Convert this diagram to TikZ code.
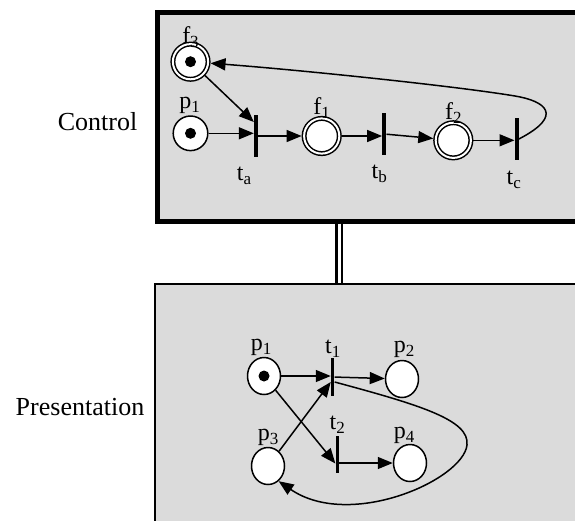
\documentclass[tikz,border=0pt]{standalone}
\usepackage{fontspec}
\setmainfont{Liberation Serif}
\usetikzlibrary{positioning,arrows.meta,shapes.geometric}
\definecolor{panel}{gray}{0.86}
\newcommand{\lblfont}{\fontsize{24}{24}\selectfont}
\newcommand{\sidefont}{\fontsize{26}{26}\selectfont}
\newcommand{\ix}[1]{\raisebox{-4pt}{\fontsize{17}{17}\selectfont #1}}
\tikzset{
  panelbox/.style={rectangle, draw, fill=panel, inner sep=0pt},
  place/.style={circle, draw, fill=white, line width=1.5pt, minimum size=34.6pt, inner sep=0pt},
  fplace/.style={circle, draw, double=white, double distance=2pt, fill=white,
                 line width=1.5pt, minimum size=35.2pt, inner sep=0pt, outer sep=2.5pt},
  eplace/.style={ellipse, draw, fill=white, line width=1.5pt, minimum width=33pt,
                 minimum height=37pt, inner sep=0pt},
  token/.style={path picture={\fill[black] (path picture bounding box.center) circle (5.5pt);}},
  trans/.style={rectangle, fill, minimum width=4pt, minimum height=42pt, inner sep=0pt},
  arc/.style={-{Triangle[length=15pt,width=12pt]}, line width=1.5pt},
  lbl/.style={inner sep=0pt, font=\lblfont},
  side/.style={inner sep=0pt, font=\sidefont, anchor=base}
}
\begin{document}
\begin{tikzpicture}[x=1pt, y=1pt, node distance=2pt]
  \useasboundingbox (0,0) rectangle (575,-520);
  % the two panels
  \node[panelbox, line width=5pt, minimum width=422.5pt, minimum height=208.5pt]
    (ctrl) at (368.75,-116.75) {};
  \node[panelbox, line width=2.5pt, minimum width=435pt, minimum height=256pt]
    (pres) at (372.5,-412) {};
  \coordinate (link) at (339.3,0);
  \draw[line width=2.3pt, double=white, double distance=3.4pt]
    (ctrl.south -| link) -- (pres.north -| link);
  \node[side] (ctrllbl) at (97.5,-130) {Control};
  \node[side] (preslbl) at (80,-415) {Presentation};

  % control net
  \node[fplace, token] (f3) at (190.5,-61.7) {};
  \node[place, token]  (cp1) at (190.5,-133.3) {};
  \node[trans] (ta) at (256,-136) {};
  \node[fplace] (f1) at (321.7,-136) {};
  \node[trans] (tb) at (384.3,-134) {};
  \node[fplace] (f2) at (453.3,-140.3) {};
  \node[trans] (tc) at (516.7,-139) {};

  \node[lbl, above=-6pt of f3] (f3lbl) {f\ix{3}};
  \node[lbl, above=1pt of cp1, xshift=-1pt] (cp1lbl) {p\ix{1}};
  \node[lbl, above=-3pt of f1] (f1lbl) {f\ix{1}};
  \node[lbl, above=-3pt of f2] (f2lbl) {f\ix{2}};
  \node[lbl, below=10pt of ta, xshift=-12pt] (talbl) {t\ix{a}};
  \node[lbl, below=10pt of tb, xshift=-5pt] (tblbl) {t\ix{b}};
  \node[lbl, below=11pt of tc, xshift=-3pt] (tclbl) {t\ix{c}};

  \draw[arc] (cp1) -- (ta.west |- cp1);
  \draw[arc] (f3) -- ([yshift=14pt]ta.west);
  \draw[arc] (ta) -- (f1);
  \draw[arc] (f1) -- (tb.west |- f1);
  \draw[arc] (tb) -- (f2);
  \draw[arc] (f2) -- (tc.west |- f2);
  \draw[arc] (tc.east) .. controls (565,-115) and (545,-101) .. (515,-96)
                       .. controls (455,-86) and (300,-70) .. (f3);

  % presentation net
  \node[eplace, token] (p1) at (264,-376) {};
  \node[trans, minimum width=3.5pt, minimum height=38pt] (t1) at (332.7,-377) {};
  \node[eplace] (p2) at (402,-379) {};
  \node[eplace] (p3) at (268,-466) {};
  \node[trans, minimum width=3.5pt, minimum height=37pt] (t2) at (337.3,-454.5) {};
  \node[eplace] (p4) at (410,-463) {};

  \node[lbl, above=1pt of p1, xshift=-3pt] (p1lbl) {p\ix{1}};
  \node[lbl, above=0pt of t1] (t1lbl) {t\ix{1}};
  \node[lbl, above=2pt of p2, xshift=2pt] (p2lbl) {p\ix{2}};
  \node[lbl, above=2pt of t2] (t2lbl) {t\ix{2}};
  \node[lbl, above=1pt of p3] (p3lbl) {p\ix{3}};
  \node[lbl, above=0pt of p4, xshift=-6pt] (p4lbl) {p\ix{4}};

  \draw[arc] (p1) -- (t1.west |- p1);
  \draw[arc] (t1) -- (p2);
  \draw[arc] (p1) -- ([yshift=-9pt]t2.west);
  \draw[arc] (p3) -- ([yshift=-5pt]t1.west);
  \draw[arc] (t2.east |- p4) -- (p4);
  \draw[arc] ([yshift=-5pt]t1.east) .. controls (420,-405) and (470,-420) .. (467,-445)
                                   .. controls (463,-480) and (350,-530) .. (p3.-55);
\end{tikzpicture}
\end{document}
